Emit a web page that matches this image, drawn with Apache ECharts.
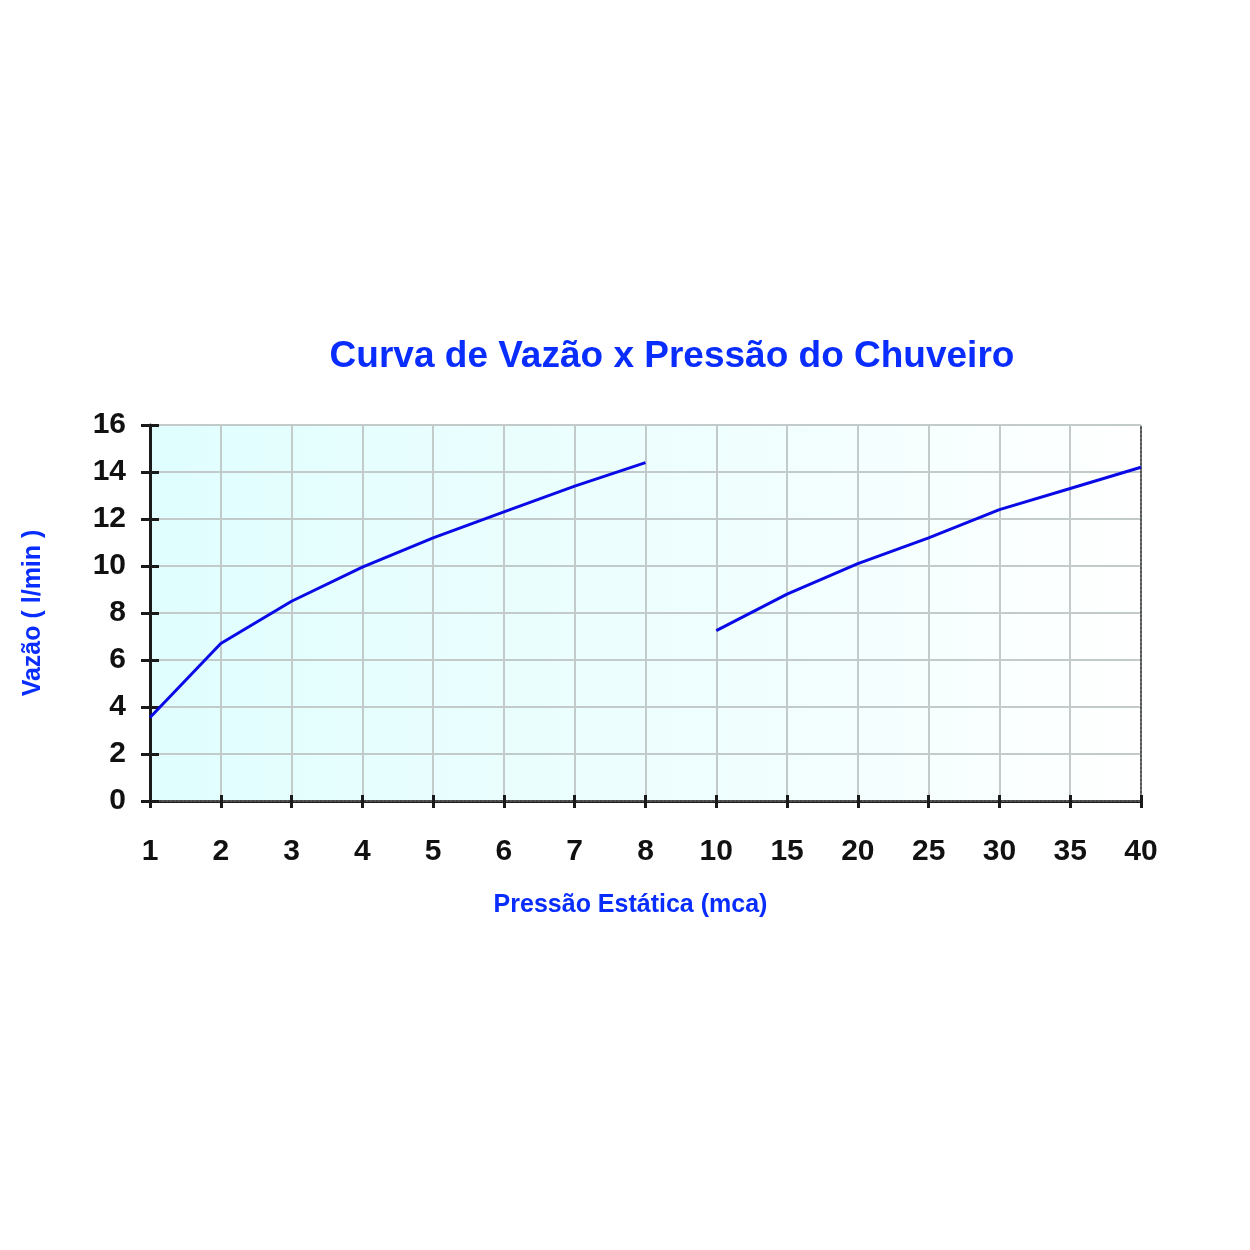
<!DOCTYPE html>
<html>
<head>
<meta charset="utf-8">
<script src="https://cdn.jsdelivr.net/npm/echarts@6/dist/echarts.min.js"></script>
<style>html,body{margin:0;padding:0;background:#fff;}#c{width:1250px;height:1250px;}</style>
</head>
<body>
<div id="c"></div>
<script>
const categories = ['1','2','3','4','5','6','7','8','10','15','20','25','30','35','40'];
const vazaoBaixa = [3.55, 6.7, 8.5, 9.95, 11.2, 12.3, 13.4, 14.4, null, null, null, null, null, null, null];
const vazaoAlta = [null, null, null, null, null, null, null, null, 7.25, 8.8, 10.1, 11.2, 12.4, 13.3, 14.2];
const yTicks = { min: 0, max: 16, interval: 2 };

const chart = echarts.init(document.getElementById('c'));
const blue = '#0a2dff';
const font = 'Liberation Sans, Arial';
const hiddenAxisParts = { axisLabel: { show: false }, splitLine: { show: false } };
chart.setOption({
  backgroundColor: '#ffffff',
  animation: false,
  title: {
    text: 'Curva de Vazão x Pressão do Chuveiro',
    left: 667, top: 333, textAlign: 'center',
    textStyle: { color: blue, fontSize: 37, fontWeight: 'bold', fontFamily: font }
  },
  grid: {
    left: 150, right: 109, top: 425, bottom: 449,
    show: true, borderWidth: 0,
    backgroundColor: {
      type: 'linear', x: 0, y: 0, x2: 1, y2: 0,
      colorStops: [
        { offset: 0, color: '#e0fefe' },
        { offset: 0.2, color: '#e6fefe' },
        { offset: 0.6, color: '#f0fefe' },
        { offset: 0.9, color: '#fbffff' },
        { offset: 1, color: '#ffffff' }
      ]
    }
  },
  xAxis: [{
    type: 'category', data: categories, boundaryGap: false,
    name: 'Pressão Estática (mca)', nameLocation: 'middle', nameGap: 92,
    nameTextStyle: { color: blue, fontSize: 25, fontWeight: 'bold', fontFamily: font, padding: [0, 30, 0, 0] },
    axisLine: { lineStyle: { color: '#1a1a1a', width: 3 } },
    axisTick: { show: true, length: 7, lineStyle: { color: '#1a1a1a', width: 3 } },
    axisLabel: { color: '#111', fontSize: 30, fontWeight: 'bold', margin: 36, fontFamily: font },
    splitLine: { show: true, lineStyle: { color: '#c2caca', width: 2 } }
  }, {
    type: 'category', data: categories, boundaryGap: false, position: 'top',
    axisLine: { lineStyle: { color: '#555', width: 2, type: 'dotted' } },
    axisTick: { show: false }, ...hiddenAxisParts
  }, {
    type: 'category', data: categories, boundaryGap: false, position: 'bottom',
    axisLine: { show: false },
    axisTick: { show: true, inside: true, length: 6, lineStyle: { color: '#1a1a1a', width: 3 } },
    ...hiddenAxisParts
  }],
  yAxis: [{
    type: 'value', min: yTicks.min, max: yTicks.max, interval: yTicks.interval,
    name: 'Vazão ( l/min )', nameLocation: 'middle', nameGap: 104, nameRotate: 90,
    nameTextStyle: { color: blue, fontSize: 25, fontWeight: 'bold', fontFamily: font },
    axisLine: { show: true, lineStyle: { color: '#1a1a1a', width: 3 } },
    axisTick: { show: true, length: 9, lineStyle: { color: '#1a1a1a', width: 3 } },
    axisLabel: { color: '#111', fontSize: 30, fontWeight: 'bold', margin: 24, fontFamily: font },
    splitLine: { show: true, lineStyle: { color: '#c2caca', width: 2 } }
  }, {
    type: 'value', min: yTicks.min, max: yTicks.max, interval: yTicks.interval, position: 'right',
    axisLine: { show: true, lineStyle: { color: '#555', width: 2, type: 'dotted' } },
    axisTick: { show: false }, ...hiddenAxisParts
  }, {
    type: 'value', min: yTicks.min, max: yTicks.max, interval: yTicks.interval, position: 'left',
    axisLine: { show: false },
    axisTick: { show: true, inside: true, length: 9, lineStyle: { color: '#1a1a1a', width: 3 } },
    ...hiddenAxisParts
  }],
  series: [{
    type: 'line', data: vazaoBaixa, symbol: 'none', connectNulls: false,
    lineStyle: { color: '#0a0ae6', width: 3 }
  }, {
    type: 'line', data: vazaoAlta, symbol: 'none', connectNulls: false,
    lineStyle: { color: '#0a0ae6', width: 3 }
  }]
});
</script>
</body>
</html>
